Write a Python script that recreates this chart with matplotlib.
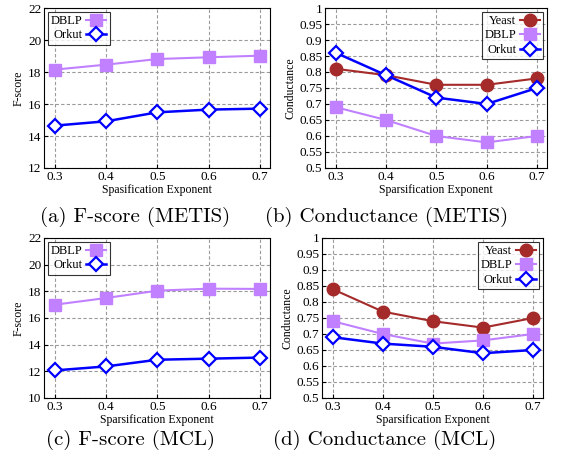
import matplotlib
matplotlib.use("Agg")
import matplotlib.pyplot as plt

plt.rcParams["font.family"] = ["Liberation Serif", "DejaVu Serif"]

x = [0.3, 0.4, 0.5, 0.6, 0.7]

# (a) F-score METIS
fa_dblp = [18.15, 18.46, 18.81, 18.92, 19.02]
fa_orkut = [14.65, 14.92, 15.48, 15.65, 15.71]
# (b) Conductance METIS
cb_yeast = [0.81, 0.79, 0.76, 0.76, 0.78]
cb_dblp = [0.69, 0.65, 0.60, 0.58, 0.60]
cb_orkut = [0.86, 0.79, 0.72, 0.70, 0.75]
# (c) F-score MCL
fc_dblp = [17.0, 17.5, 18.05, 18.2, 18.18]
fc_orkut = [12.07, 12.37, 12.87, 12.95, 13.03]
# (d) Conductance MCL
cd_yeast = [0.84, 0.77, 0.74, 0.72, 0.75]
cd_dblp = [0.74, 0.70, 0.67, 0.68, 0.70]
cd_orkut = [0.69, 0.67, 0.66, 0.64, 0.65]

captions = ["(a) F-score (METIS)", "(b) Conductance (METIS)",
            "(c) F-score (MCL)", "(d) Conductance (MCL)"]

PURPLE = "#c080ff"
BLUE = "#0000ff"
RED = "#a52a2a"

W, H = 569, 463
fig = plt.figure(figsize=(W / 100, H / 100), dpi=100)

def ax_at(l, t, r, b):
    return fig.add_axes([l / W, 1 - b / H, (r - l) / W, (b - t) / H])

def style(ax, ylim, yticks, ylabel, xlabel):
    ax.set_xlim(0.2785, 0.72)
    ax.set_xticks(x)
    ax.set_xticklabels(["0.3", "0.4", "0.5", "0.6", "0.7"])
    ax.set_ylim(*ylim)
    ax.set_yticks(yticks)
    ax.grid(True, color="#9a9a9a", linestyle=(0, (3, 2)), linewidth=0.8)
    ax.tick_params(labelsize=9.5, length=3, direction="in", pad=2)
    ax.set_ylabel(ylabel, fontsize=8.5, labelpad=2)
    ax.set_xlabel(xlabel, fontsize=8.5, labelpad=1)
    for s in ax.spines.values():
        s.set_linewidth(0.8)

def plot_dblp(ax, y):
    ax.plot(x, y, color=PURPLE, lw=1.5, marker="s", ms=9, mfc=PURPLE,
            mec=PURPLE, label="DBLP")

def plot_orkut(ax, y):
    ax.plot(x, y, color=BLUE, lw=1.8, marker="D", ms=7, mfc="white",
            mec=BLUE, mew=1.6, label="Orkut")

def plot_yeast(ax, y):
    ax.plot(x, y, color=RED, lw=1.5, marker="o", ms=9, mfc=RED,
            mec=RED, label="Yeast")

def legend(ax, loc):
    lg = ax.legend(loc=loc, markerfirst=False, fontsize=9, frameon=True,
                   fancybox=False, edgecolor="black", handlelength=1.6,
                   handletextpad=0.3, borderpad=0.25, labelspacing=0.2,
                   borderaxespad=0.3)
    lg.get_frame().set_linewidth(0.8)

# (a)
ax = ax_at(44, 8, 270, 168)
plot_dblp(ax, fa_dblp)
plot_orkut(ax, fa_orkut)
style(ax, (12, 22), [12, 14, 16, 18, 20, 22], "F-score", "Spasification Exponent")
legend(ax, "upper left")

# (b)
ax = ax_at(325, 8, 547, 168)
plot_yeast(ax, cb_yeast)
plot_dblp(ax, cb_dblp)
plot_orkut(ax, cb_orkut)
style(ax, (0.5, 1.0), [0.5, 0.55, 0.6, 0.65, 0.7, 0.75, 0.8, 0.85, 0.9, 0.95, 1.0],
      "Conductance", "Sparsification Exponent")
ax.set_yticklabels(["0.5", "0.55", "0.6", "0.65", "0.7", "0.75", "0.8", "0.85",
                    "0.9", "0.95", "1"])
legend(ax, "upper right")

# (c)
ax = ax_at(44, 238, 270, 398)
plot_dblp(ax, fc_dblp)
plot_orkut(ax, fc_orkut)
style(ax, (10, 22), [10, 12, 14, 16, 18, 20, 22], "F-score", "Sparsification Exponent")
legend(ax, "upper left")

# (d)
ax = ax_at(322, 238, 543, 398)
plot_yeast(ax, cd_yeast)
plot_dblp(ax, cd_dblp)
plot_orkut(ax, cd_orkut)
style(ax, (0.5, 1.0), [0.5, 0.55, 0.6, 0.65, 0.7, 0.75, 0.8, 0.85, 0.9, 0.95, 1.0],
      "Conductance", "Sparsification Exponent")
ax.set_yticklabels(["0.5", "0.55", "0.6", "0.65", "0.7", "0.75", "0.8", "0.85",
                    "0.9", "0.95", "1"])
legend(ax, "upper right")

for (cx, cy), cap in zip([(135, 217), (387, 217), (131, 440), (385, 440)], captions):
    fig.text(cx / W, 1 - cy / H, cap, ha="center", va="center", fontsize=15,
             family=["cmr10", "Liberation Serif"])

fig.savefig("out.png", dpi=100)
